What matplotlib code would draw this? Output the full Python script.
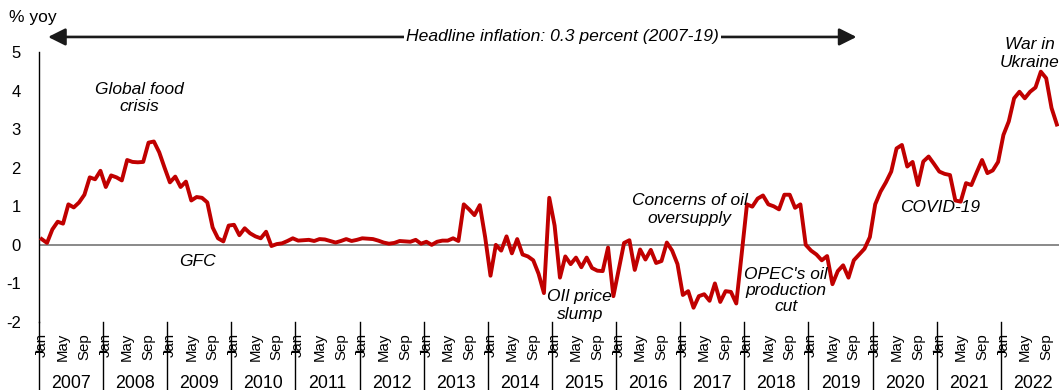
import matplotlib
matplotlib.use("Agg")
import matplotlib.pyplot as plt
import matplotlib.transforms as mtransforms

plt.rcParams['font.family'] = ['Liberation Sans', 'DejaVu Sans']

# monthly headline inflation, % yoy, Jan 2007 - Nov 2022
years = list(range(2007, 2023))
infl_2007 = [0.15, 0.05, 0.4, 0.6, 0.55, 1.05, 0.97, 1.1, 1.3, 1.75, 1.7, 1.92]
infl_2008 = [1.5, 1.8, 1.75, 1.67, 2.2, 2.15, 2.14, 2.15, 2.65, 2.68, 2.4, 2.0]
infl_2009 = [1.62, 1.77, 1.5, 1.64, 1.15, 1.24, 1.22, 1.1, 0.45, 0.17, 0.09, 0.5]
infl_2010 = [0.52, 0.25, 0.43, 0.3, 0.22, 0.17, 0.34, -0.03, 0.02, 0.04, 0.1, 0.17]
infl_2011 = [0.11, 0.12, 0.13, 0.1, 0.15, 0.14, 0.1, 0.06, 0.1, 0.15, 0.1, 0.13]
infl_2012 = [0.17, 0.16, 0.15, 0.11, 0.06, 0.03, 0.05, 0.1, 0.09, 0.08, 0.13, 0.03]
infl_2013 = [0.08, 0.0, 0.08, 0.11, 0.11, 0.17, 0.1, 1.05, 0.92, 0.77, 1.03, 0.2]
infl_2014 = [-0.8, 0.0, -0.15, 0.22, -0.22, 0.15, -0.25, -0.3, -0.4, -0.75, -1.25, 1.22]
infl_2015 = [0.5, -0.85, -0.3, -0.5, -0.33, -0.58, -0.33, -0.6, -0.67, -0.68, -0.07, -1.33]
infl_2016 = [-0.64, 0.05, 0.12, -0.65, -0.12, -0.38, -0.13, -0.47, -0.42, 0.06, -0.15, -0.5]
infl_2017 = [-1.3, -1.2, -1.63, -1.33, -1.28, -1.45, -1.0, -1.48, -1.2, -1.22, -1.52, -0.25]
infl_2018 = [1.05, 0.99, 1.2, 1.28, 1.05, 1.0, 0.92, 1.3, 1.3, 0.96, 1.05, 0.0]
infl_2019 = [-0.15, -0.25, -0.4, -0.29, -1.02, -0.68, -0.53, -0.85, -0.4, -0.25, -0.1, 0.2]
infl_2020 = [1.05, 1.38, 1.62, 1.9, 2.5, 2.59, 2.03, 2.15, 1.55, 2.16, 2.29, 2.1]
infl_2021 = [1.9, 1.84, 1.81, 1.15, 1.12, 1.6, 1.55, 1.88, 2.2, 1.86, 1.93, 2.15]
infl_2022 = [2.85, 3.2, 3.8, 3.97, 3.8, 3.97, 4.08, 4.49, 4.32, 3.55, 3.12]

month_labels = ['Jan', 'May', 'Sep']
yticks = [-2, -1, 0, 1, 2, 3, 4, 5]

inflation = (infl_2007 + infl_2008 + infl_2009 + infl_2010 + infl_2011 + infl_2012
             + infl_2013 + infl_2014 + infl_2015 + infl_2016 + infl_2017 + infl_2018
             + infl_2019 + infl_2020 + infl_2021 + infl_2022)
months = list(range(len(inflation)))

fig = plt.figure(figsize=(10.59, 3.90), dpi=100)
ax = fig.add_axes([39 / 1059, 68 / 390, 1020 / 1059, 270 / 390])

ax.axhline(0, color='#808080', lw=1.3, zorder=1)
ax.plot(months, inflation, color='#C00000', lw=2.8, zorder=3, solid_joinstyle='round')

ax.set_xlim(-0.5, 190.4)
ax.set_ylim(-2, 5)
ax.set_yticks(yticks)
ax.set_yticklabels([str(v) for v in yticks], fontsize=12)
ax.tick_params(axis='y', length=0, pad=13)

for s in ['top', 'right', 'bottom']:
    ax.spines[s].set_visible(False)
ax.spines['left'].set_linewidth(1.0)

# month ticks: Jan, May, Sep every year
pos, labs = [], []
for k in range(len(years)):
    for j, m in enumerate(month_labels):
        pos.append(12 * k + 4 * j)
        labs.append(m)
ax.set_xticks(pos)
ax.set_xticklabels(labs, rotation=90, fontsize=10.8)
ax.tick_params(axis='x', length=0, pad=8)

# year separators and year labels
trans = mtransforms.blended_transform_factory(ax.transData, ax.transAxes)
for k, yr in enumerate(years):
    b = 12 * k - 0.5
    ax.plot([b, b], [0, -0.26], transform=trans, color='black', lw=1.0, clip_on=False)
    ax.plot([b - 0.6, b + 0.6], [-0.107, -0.107], transform=trans, color='black', lw=1.0,
            clip_on=False)
    ax.text(12 * k + 5.5, -0.226, str(yr), transform=trans, ha='center', va='center',
            fontsize=12.8)

ax.text(-0.029, 1.128, '% yoy', transform=ax.transAxes, ha='left', va='center', fontsize=12.5)

# headline arrow
ax.annotate('', xy=(1.2, 5.39), xytext=(152.5, 5.39),
            arrowprops=dict(arrowstyle='<|-|>', color='#1a1a1a', lw=1.9,
                            mutation_scale=26, shrinkA=0, shrinkB=0),
            annotation_clip=False)
ax.text(97.5, 5.39, 'Headline inflation: 0.3 percent (2007-19)', ha='center', va='center',
        fontsize=12.6, style='italic',
        bbox=dict(facecolor='white', edgecolor='none', pad=1.5), clip_on=False)

notes = [
    (18.2, 3.80, 'Global food\ncrisis', 1.2),
    (29.1, -0.43, 'GFC', 1.0),
    (100.7, -1.57, 'OIl price\nslump', 1.2),
    (121.3, 0.92, 'Concerns of oil\noversupply', 1.2),
    (139.3, -1.19, "OPEC's oil\nproduction\ncut", 1.1),
    (168.2, 0.97, 'COVID-19', 1.0),
    (184.9, 4.96, 'War in\nUkraine', 1.2),
]
for x, y, t, ls in notes:
    ax.text(x, y, t, ha='center', va='center', fontsize=12.5, style='italic',
            linespacing=ls, zorder=4)

fig.savefig('out.png', dpi=100)
